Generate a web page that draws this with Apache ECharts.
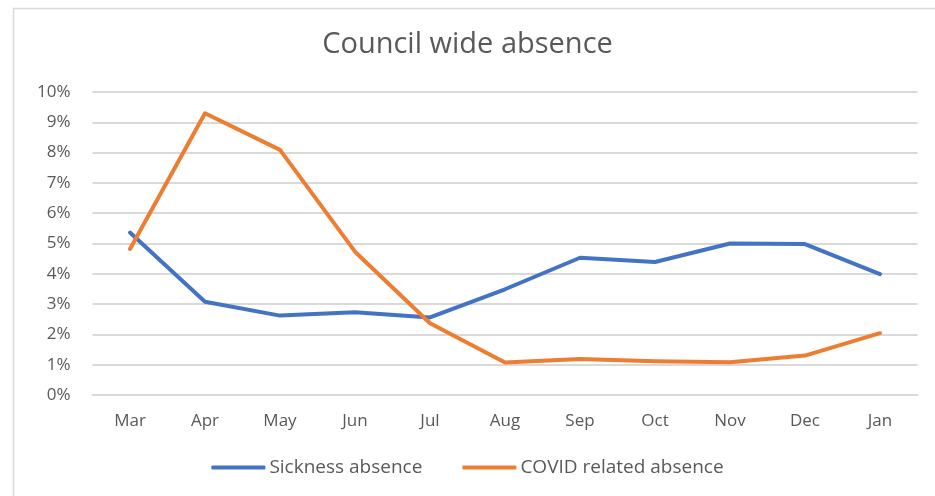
<!DOCTYPE html>
<html>
<head>
<meta charset="utf-8">
<script src="https://cdn.jsdelivr.net/npm/echarts@6/dist/echarts.min.js"></script>
<style>
  html, body { margin: 0; padding: 0; background: #fff; }
  #chart { width: 935px; height: 496px; }
</style>
</head>
<body>
<div id="chart"></div>
<script>
// 数据
const months = ['Mar', 'Apr', 'May', 'Jun', 'Jul', 'Aug', 'Sep', 'Oct', 'Nov', 'Dec', 'Jan'];
const sickness = [5.36, 3.08, 2.62, 2.73, 2.56, 3.49, 4.53, 4.39, 5.0, 4.98, 3.99];
const covid = [4.82, 9.30, 8.09, 4.73, 2.37, 1.07, 1.19, 1.11, 1.08, 1.30, 2.04];
const yTicks = [0, 1, 2, 3, 4, 5, 6, 7, 8, 9, 10];

const font = 'Open Sans';
const textColor = '#595959';

const chart = echarts.init(document.getElementById('chart'));
chart.setOption({
    animation: false,
    graphic: [{
        type: 'rect',
        shape: { x: 13.5, y: 8.5, width: 940, height: 500 },
        style: { fill: 'none', stroke: '#d9d9d9', lineWidth: 1.5 },
        silent: true
    }],
    title: {
        text: 'Council wide absence',
        left: 'center',
        top: 25,
        textStyle: { fontFamily: font, fontSize: 29, fontWeight: 'normal', color: textColor }
    },
    legend: {
        top: 453,
        left: 'center',
        itemWidth: 54,
        itemHeight: 4,
        itemGap: 40,
        icon: 'roundRect',
        textStyle: { fontFamily: font, fontSize: 19, color: textColor, padding: [0, 0, 0, -1] },
        data: ['Sickness absence', 'COVID related absence']
    },
    grid: { left: 92.5, right: 17.5, top: 92, bottom: 101 },
    xAxis: {
        type: 'category',
        data: months,
        axisLine: { lineStyle: { color: '#d9d9d9', width: 2 } },
        axisTick: { show: false },
        axisLabel: { fontFamily: font, fontSize: 17, color: textColor, margin: 18 }
    },
    yAxis: {
        type: 'value',
        min: yTicks[0],
        max: yTicks[yTicks.length - 1],
        interval: 1,
        axisLine: { show: false },
        axisTick: { show: false },
        splitLine: { lineStyle: { color: '#d9d9d9', width: 2 } },
        axisLabel: { fontFamily: font, fontSize: 17, color: textColor, margin: 22, formatter: '{value}%' }
    },
    series: [
        {
            name: 'Sickness absence',
            type: 'line',
            data: sickness,
            symbol: 'none',
            lineStyle: { color: '#4472C4', width: 4, cap: 'round', join: 'round' },
            itemStyle: { color: '#4472C4' }
        },
        {
            name: 'COVID related absence',
            type: 'line',
            data: covid,
            symbol: 'none',
            lineStyle: { color: '#ED7D31', width: 4, cap: 'round', join: 'round' },
            itemStyle: { color: '#ED7D31' }
        }
    ]
});
</script>
</body>
</html>
